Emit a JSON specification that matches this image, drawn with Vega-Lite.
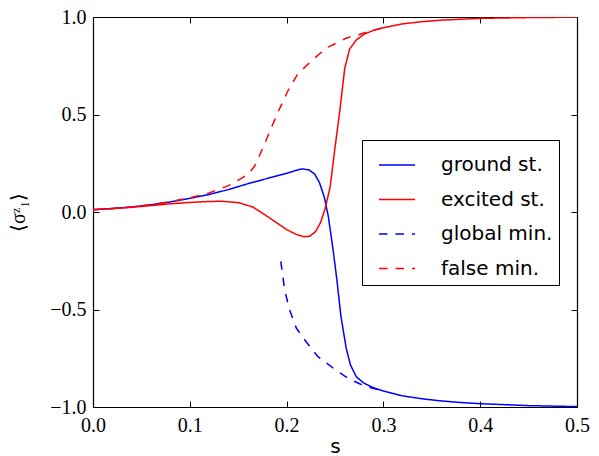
{
  "$schema": "https://vega.github.io/schema/vega-lite/v6.json",
  "width": 484,
  "height": 390,
  "autosize": {"type": "none"},
  "padding": {"left": 93, "top": 17, "right": 22, "bottom": 49},
  "config": {
    "view": {"stroke": null},
    "axis": {
      "grid": false,
      "domainColor": "#000000",
      "domainWidth": 1.2,
      "tickColor": "#000000",
      "tickWidth": 1,
      "tickSize": -6,
      "labelFlush": false,
      "labelFont": "Liberation Serif",
      "labelFontSize": 20,
      "labelColor": "#000000",
      "titleColor": "#000000"
    }
  },
  "datasets": {
    "curves": [
      {"s": 0.0, "v": 0.012, "series": "ground st."},
      {"s": 0.02, "v": 0.018, "series": "ground st."},
      {"s": 0.04, "v": 0.026, "series": "ground st."},
      {"s": 0.06, "v": 0.037, "series": "ground st."},
      {"s": 0.08, "v": 0.052, "series": "ground st."},
      {"s": 0.1, "v": 0.07, "series": "ground st."},
      {"s": 0.12, "v": 0.09, "series": "ground st."},
      {"s": 0.14, "v": 0.115, "series": "ground st."},
      {"s": 0.16, "v": 0.145, "series": "ground st."},
      {"s": 0.18, "v": 0.172, "series": "ground st."},
      {"s": 0.2, "v": 0.198, "series": "ground st."},
      {"s": 0.21, "v": 0.214, "series": "ground st."},
      {"s": 0.216, "v": 0.221, "series": "ground st."},
      {"s": 0.223, "v": 0.216, "series": "ground st."},
      {"s": 0.229, "v": 0.195, "series": "ground st."},
      {"s": 0.234, "v": 0.15, "series": "ground st."},
      {"s": 0.239, "v": 0.075, "series": "ground st."},
      {"s": 0.243, "v": -0.02, "series": "ground st."},
      {"s": 0.248, "v": -0.193, "series": "ground st."},
      {"s": 0.252, "v": -0.35, "series": "ground st."},
      {"s": 0.256, "v": -0.53, "series": "ground st."},
      {"s": 0.2615, "v": -0.697, "series": "ground st."},
      {"s": 0.266, "v": -0.785, "series": "ground st."},
      {"s": 0.272, "v": -0.845, "series": "ground st."},
      {"s": 0.28, "v": -0.878, "series": "ground st."},
      {"s": 0.29, "v": -0.902, "series": "ground st."},
      {"s": 0.3, "v": -0.918, "series": "ground st."},
      {"s": 0.32, "v": -0.943, "series": "ground st."},
      {"s": 0.34, "v": -0.958, "series": "ground st."},
      {"s": 0.36, "v": -0.969, "series": "ground st."},
      {"s": 0.38, "v": -0.977, "series": "ground st."},
      {"s": 0.4, "v": -0.983, "series": "ground st."},
      {"s": 0.45, "v": -0.993, "series": "ground st."},
      {"s": 0.5, "v": -0.998, "series": "ground st."},

      {"s": 0.0, "v": 0.012, "series": "excited st."},
      {"s": 0.02, "v": 0.017, "series": "excited st."},
      {"s": 0.04, "v": 0.024, "series": "excited st."},
      {"s": 0.06, "v": 0.033, "series": "excited st."},
      {"s": 0.08, "v": 0.042, "series": "excited st."},
      {"s": 0.1, "v": 0.049, "series": "excited st."},
      {"s": 0.12, "v": 0.054, "series": "excited st."},
      {"s": 0.133, "v": 0.055, "series": "excited st."},
      {"s": 0.15, "v": 0.048, "series": "excited st."},
      {"s": 0.165, "v": 0.026, "series": "excited st."},
      {"s": 0.18, "v": -0.022, "series": "excited st."},
      {"s": 0.19, "v": -0.056, "series": "excited st."},
      {"s": 0.2, "v": -0.09, "series": "excited st."},
      {"s": 0.21, "v": -0.115, "series": "excited st."},
      {"s": 0.218, "v": -0.127, "series": "excited st."},
      {"s": 0.224, "v": -0.124, "series": "excited st."},
      {"s": 0.23, "v": -0.1, "series": "excited st."},
      {"s": 0.235, "v": -0.055, "series": "excited st."},
      {"s": 0.24, "v": 0.02, "series": "excited st."},
      {"s": 0.245, "v": 0.13, "series": "excited st."},
      {"s": 0.25, "v": 0.33, "series": "excited st."},
      {"s": 0.255, "v": 0.52, "series": "excited st."},
      {"s": 0.26, "v": 0.735, "series": "excited st."},
      {"s": 0.265, "v": 0.835, "series": "excited st."},
      {"s": 0.272, "v": 0.882, "series": "excited st."},
      {"s": 0.28, "v": 0.912, "series": "excited st."},
      {"s": 0.29, "v": 0.932, "series": "excited st."},
      {"s": 0.3, "v": 0.945, "series": "excited st."},
      {"s": 0.32, "v": 0.965, "series": "excited st."},
      {"s": 0.34, "v": 0.976, "series": "excited st."},
      {"s": 0.36, "v": 0.984, "series": "excited st."},
      {"s": 0.4, "v": 0.993, "series": "excited st."},
      {"s": 0.45, "v": 0.997, "series": "excited st."},
      {"s": 0.5, "v": 0.999, "series": "excited st."},

      {"s": 0.194, "v": -0.253, "series": "global min."},
      {"s": 0.198, "v": -0.4, "series": "global min."},
      {"s": 0.203, "v": -0.5, "series": "global min."},
      {"s": 0.21, "v": -0.595, "series": "global min."},
      {"s": 0.22, "v": -0.664, "series": "global min."},
      {"s": 0.232, "v": -0.74, "series": "global min."},
      {"s": 0.248, "v": -0.8, "series": "global min."},
      {"s": 0.265, "v": -0.858, "series": "global min."},
      {"s": 0.276, "v": -0.882, "series": "global min."},
      {"s": 0.286, "v": -0.9, "series": "global min."},
      {"s": 0.295, "v": -0.912, "series": "global min."},

      {"s": 0.0, "v": 0.012, "series": "false min."},
      {"s": 0.02, "v": 0.018, "series": "false min."},
      {"s": 0.04, "v": 0.026, "series": "false min."},
      {"s": 0.06, "v": 0.037, "series": "false min."},
      {"s": 0.08, "v": 0.053, "series": "false min."},
      {"s": 0.1, "v": 0.073, "series": "false min."},
      {"s": 0.12, "v": 0.098, "series": "false min."},
      {"s": 0.14, "v": 0.135, "series": "false min."},
      {"s": 0.155, "v": 0.178, "series": "false min."},
      {"s": 0.162, "v": 0.205, "series": "false min."},
      {"s": 0.167, "v": 0.236, "series": "false min."},
      {"s": 0.1755, "v": 0.328, "series": "false min."},
      {"s": 0.184, "v": 0.43, "series": "false min."},
      {"s": 0.193, "v": 0.533, "series": "false min."},
      {"s": 0.201, "v": 0.618, "series": "false min."},
      {"s": 0.211, "v": 0.704, "series": "false min."},
      {"s": 0.225, "v": 0.772, "series": "false min."},
      {"s": 0.241, "v": 0.841, "series": "false min."},
      {"s": 0.262, "v": 0.892, "series": "false min."},
      {"s": 0.276, "v": 0.912, "series": "false min."},
      {"s": 0.286, "v": 0.928, "series": "false min."},
      {"s": 0.3, "v": 0.945, "series": "false min."}
    ]
  },
  "data": {"name": "curves"},
  "layer": [
    {
      "mark": {"type": "line", "strokeWidth": 1.5, "clip": true},
      "encoding": {
        "x": {
          "field": "s", "type": "quantitative",
          "scale": {"domain": [0, 0.5], "nice": false, "zero": false},
          "axis": {
            "orient": "bottom", "values": [0, 0.1, 0.2, 0.3, 0.4, 0.5], "format": ".1f",
            "labelPadding": 14, "title": "s",
            "titleFont": "DejaVu Sans", "titleFontSize": 20, "titleFontWeight": "normal",
            "titleX": 242, "titleY": 45, "titleBaseline": "alphabetic", "titleAlign": "center"
          }
        },
        "y": {
          "field": "v", "type": "quantitative",
          "scale": {"domain": [-1, 1], "nice": false, "zero": false},
          "axis": {
            "orient": "left", "values": [-1, -0.5, 0, 0.5, 1], "format": ".1f",
            "labelPadding": 13, "title": "⟨σᶻ₁⟩",
            "titleFont": "Liberation Serif", "titleFontSize": 20, "titleFontWeight": "normal",
            "titleX": -75, "titleY": 195, "titleAngle": -90, "titleAlign": "center", "titleBaseline": "middle"
          }
        },
        "color": {
          "field": "series", "type": "nominal",
          "scale": {
            "domain": ["ground st.", "excited st.", "global min.", "false min."],
            "range": ["#0000ff", "#ff0000", "#0000ff", "#ff0000"]
          },
          "legend": {
            "title": null, "orient": "none", "legendX": 269, "legendY": 123,
            "strokeColor": "#000000", "fillColor": "#ffffff", "padding": 6,
            "symbolType": "stroke", "symbolSize": 1296, "symbolStrokeWidth": 1.5,
            "symbolOffset": 10,
            "labelFont": "DejaVu Sans", "labelFontSize": 20, "labelColor": "#000000",
            "labelOffset": 25, "rowPadding": 5.5, "cornerRadius": 0
          }
        },
        "strokeDash": {
          "field": "series", "type": "nominal",
          "scale": {
            "domain": ["ground st.", "excited st.", "global min.", "false min."],
            "range": [[1, 0], [1, 0], [8.5, 8], [8.5, 8]]
          },
          "legend": {
            "title": null, "orient": "none", "legendX": 269, "legendY": 123,
            "strokeColor": "#000000", "fillColor": "#ffffff", "padding": 6,
            "symbolType": "stroke", "symbolSize": 1296, "symbolStrokeWidth": 1.5,
            "symbolOffset": 10,
            "labelFont": "DejaVu Sans", "labelFontSize": 20, "labelColor": "#000000",
            "labelOffset": 25, "rowPadding": 5.5, "cornerRadius": 0
          }
        }
      }
    },
    {
      "mark": {"type": "line", "opacity": 0},
      "encoding": {
        "x": {
          "field": "s", "type": "quantitative",
          "axis": {"orient": "top", "values": [0, 0.1, 0.2, 0.3, 0.4, 0.5], "labels": false, "title": null}
        },
        "y": {
          "field": "v", "type": "quantitative",
          "axis": {"orient": "right", "values": [-1, -0.5, 0, 0.5, 1], "labels": false, "title": null}
        },
        "detail": {"field": "series"}
      }
    }
  ],
  "resolve": {"axis": {"x": "independent", "y": "independent"}}
}
